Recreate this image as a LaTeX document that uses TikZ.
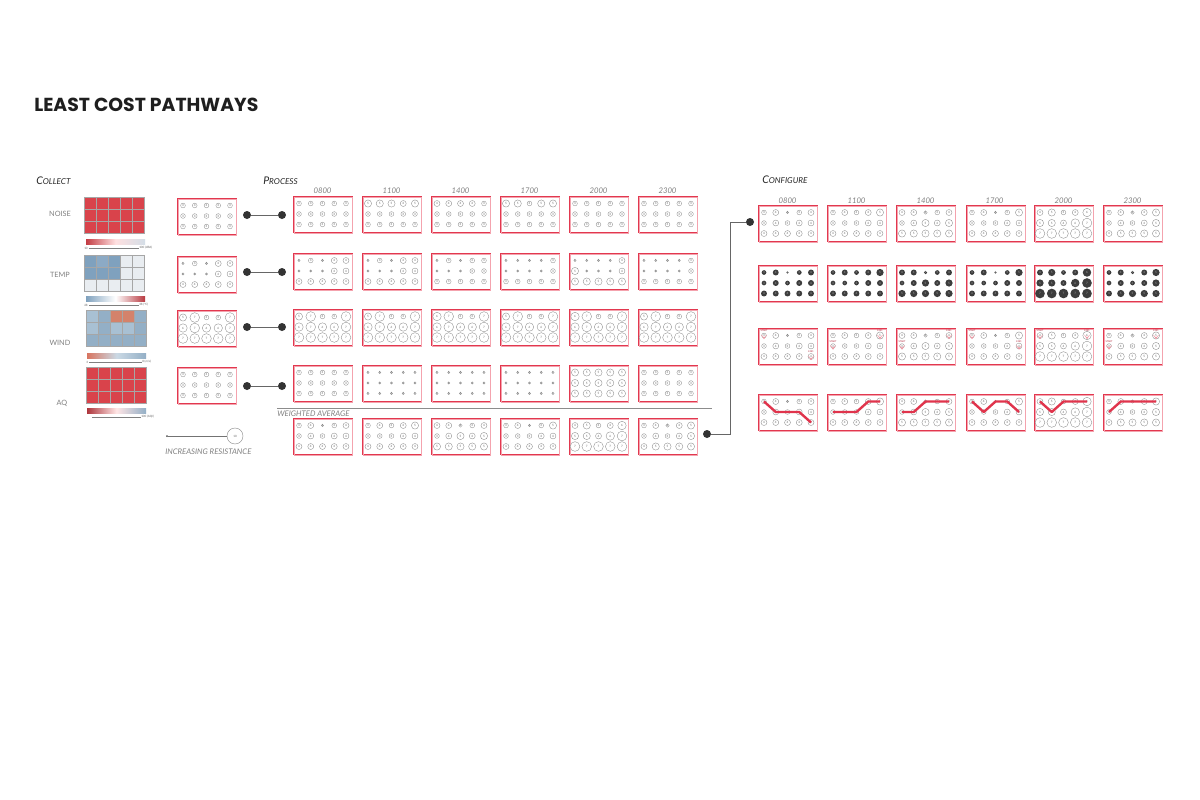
\documentclass[tikz,border=0pt]{standalone}
\usepackage{fontspec}
\setmainfont{Lato}
\newfontfamily\titlefont{Poppins}
\usetikzlibrary{calc}
\definecolor{boxred}{HTML}{E2384F}
\definecolor{boxpink}{HTML}{F4A3AE}
\definecolor{hred}{HTML}{D9434B}
\definecolor{hblue}{HTML}{7FA1BE}
\definecolor{hlight}{HTML}{E9EDF1}
\definecolor{wlight}{HTML}{A8C0D3}
\definecolor{wmid}{HTML}{93AFC6}
\definecolor{worange}{HTML}{D4826B}
\definecolor{txtgray}{HTML}{808080}
\definecolor{dotgray}{HTML}{333333}
\definecolor{fillgray}{HTML}{3D3D3D}
\definecolor{pathred}{HTML}{E0344C}
\newcommand{\fsc}[2]{{\fontsize{7.5}{8}\selectfont #1}{\fontsize{5.8}{7}\selectfont #2}}
\newcommand{\tinyfont}{\fontsize{2.1}{2.4}\selectfont}
\tikzset{
  gridbox/.style={draw=boxred, line width=0.6pt, minimum width=14.75mm, minimum height=9mm, inner sep=0pt, anchor=north west},
  pinkedge/.style={draw=boxpink, line width=0.5pt},
  circopen/.style={draw=black!45, line width=0.25pt, fill=white},
  circfill/.style={fill=fillgray},
  digitopen/.style={font=\tinyfont, text=black!60, inner sep=0pt},
  digitfill/.style={font=\tinyfont, text=black!35, inner sep=0pt},
  hdr/.style={font=\fontsize{5.5}{6}\selectfont\itshape, text=txtgray, inner sep=0pt},
  rowlbl/.style={font=\fontsize{5.2}{6}\selectfont, text=txtgray, inner sep=0pt},
  sect/.style={font=\itshape, text=black!85, inner sep=0pt, anchor=west},
  dumb/.style={draw=black!60, line width=0.7pt},
  enddot/.style={circle, fill=dotgray, inner sep=0pt, minimum size=2mm},
  cell/.style={draw=black!35, line width=0.25pt},
  pathline/.style={draw=pathred, line width=1.7pt, line join=round},
  pin/.style={fill=pathred!80, draw=pathred!40, line width=0.2pt},
  pintext/.style={font=\fontsize{1.7}{2}\selectfont, text=pathred!80!black, inner sep=0pt},
}
% grid of 5x3 resistance circles: name, x, y, values, open|fill
\newcommand{\cgrid}[5]{%
  \node[gridbox] (#1) at (#2,#3) {};
  \draw[pinkedge] ($(#2,#3)+(1.3,1.1)$) rectangle ($(#2,#3)+(59.8,36.9)$);
  \edef\cglist{#4}%
  \foreach \v [count=\i from 0] in \cglist {%
    \pgfmathtruncatemacro\cc{mod(\i,5)}%
    \pgfmathtruncatemacro\rr{div(\i,5)}%
    \pgfmathsetmacro\rad{0.62*\v+0.5}%
    \coordinate (#1-\rr-\cc) at ($(#2,#3)+(6+11.75*\cc,7.5+10.5*\rr)$);
    \path[circ#5] (#1-\rr-\cc) circle[radius=\rad];
    \node[digit#5] at (#1-\rr-\cc) {\v};
  }%
}
% heat map: x, y, 15 colours
\newcommand{\hmap}[3]{%
  \foreach \cl [count=\i from 0] in {#3}{%
    \pgfmathtruncatemacro\cc{mod(\i,5)}%
    \pgfmathtruncatemacro\rr{div(\i,5)}%
    \path[fill=\cl, cell] ($(#1,#2)+(12*\cc,12*\rr)$) rectangle ++(12,12);
  }%
}
% start/end marker: a red pin on the grid cell, tiny label above
\newcommand{\startpin}[2]{%
  \path[pin] ($(#1)+(-2.4,-0.6)$) arc[start angle=180, end angle=0, radius=2.4] -- ($(#1)+(0,3.4)$) -- cycle;
  \node[pintext] at ($(#1)+(0,-4.4)$) {#2};
}
\def\vA{3,4,1,3,4,3,4,3,4,4,4,4,4,4,4}
\def\vB{3,4,3,4,5,3,3,3,4,4,4,4,4,4,4}
\def\vC{4,4,2,3,4,3,4,5,4,5,5,5,5,5,5}
\def\vD{3,4,1,3,5,3,3,3,4,4,4,4,4,4,4}
\def\vE{4,5,3,4,6,5,5,4,6,7,7,7,7,7,7}
\def\vF{3,4,2,4,5,3,4,3,4,5,4,5,5,5,5}
\begin{document}
\begin{tikzpicture}[x=0.25mm, y=-0.25mm]
\useasboundingbox (0,0) rectangle (1200,800);
\fill[white] (0,0) rectangle (1200,800);

% title and section labels
\node[anchor=west, inner sep=0pt, font=\titlefont\bfseries\fontsize{13.4}{15}\selectfont, text=black!88] (title) at (34,105) {LEAST COST PATHWAYS};
\node[sect] (collect) at (36,181) {\fsc{C}{OLLECT}};
\node[sect] (process) at (263,181) {\fsc{P}{ROCESS}};
\node[sect] (configure) at (762,180) {\fsc{C}{ONFIGURE}};

% ---------------- COLLECT ----------------
\node[rowlbl] (lnoise) at (60,214) {NOISE};
\node[rowlbl] (ltemp) at (60,275) {TEMP};
\node[rowlbl] (lwind) at (60,343) {WIND};
\node[rowlbl] (laq) at (62,403) {AQ};

\hmap{84}{197}{hred,hred,hred,hred,hred,hred,hred,hred,hred,hred,hred,hred,hred,hred,hred}
\hmap{84}{255}{hblue,hblue!90,hblue,hlight,hlight,hblue,hblue,hblue,hlight,hlight,hlight,hlight,hlight,hlight,hlight}
\hmap{86}{310}{wlight,wmid,worange,worange,wmid,wlight,wmid,wlight,wlight,wmid,wmid,wmid,wmid,wmid,wmid}
\hmap{86}{367}{hred,hred,hred,hred,hred,hred,hred,hred,hred,hred,hred,hred,hred,hred,hred}

\shade[left color=hred!90!black, right color=hlight!80!hblue, middle color=red!12] (86,239) rectangle (145,244);
\shade[left color=hblue, right color=hred!85!black, middle color=white] (86,296) rectangle (145,301);
\shade[left color=worange!90!red, right color=wmid, middle color=wlight!60] (87,353) rectangle (146,358);
\shade[left color=hred!80!black, right color=wmid, middle color=red!10] (87,408) rectangle (146,413);

\begin{scope}[every node/.style={font=\tinyfont, text=black!60, inner sep=0pt}]
\node[anchor=west] (s1a) at (84,248) {10};
\node[anchor=west] (s1b) at (139,248) {100 (dBA)};
\draw[black!50, line width=0.2pt] (s1a.east) ++(1,0) -- (s1b.west);
\node[anchor=west] (s2a) at (84,305) {28};
\node[anchor=west] (s2b) at (139,305) {38 (°C)};
\draw[black!50, line width=0.2pt] (s2a.east) ++(1,0) -- (s2b.west);
\node[anchor=west] (s3a) at (86,362) {3};
\node[anchor=west] (s3b) at (142,362) {8 (m/s)};
\draw[black!50, line width=0.2pt] (s3a.east) ++(1,0) -- (s3b.west);
\node[anchor=west] (s4b) at (141,417) {100 (AQI)};
\coordinate (s4a) at (92,417);
\draw[black!50, line width=0.2pt] (s4a) -- (s4b.west);
\end{scope}

% ---------------- PROCESS: inputs ----------------
\cgrid{in1}{177}{198}{3,3,3,3,3,3,3,3,3,3,3,3,3,3,3}{open}
\cgrid{in2}{177}{256}{1,3,1,4,4,1,1,1,4,4,4,4,4,4,4}{open}
\cgrid{in3}{177}{310}{5,7,3,3,7,6,7,6,6,7,7,7,7,7,7}{open}
\cgrid{in4}{177}{367}{3,3,3,3,3,3,3,3,3,3,3,3,3,3,3}{open}

\foreach \y [count=\k] in {215,272,327,386}{
  \node[enddot] (da\k) at (247,\y) {};
  \node[enddot] (db\k) at (282,\y) {};
  \draw[dumb] (da\k) -- (db\k);
}

% legend
\node[circle, fill=black!70, inner sep=0pt, minimum size=0.5mm] (lgA) at (167,436) {};
\node[circle, draw=black!45, line width=0.3pt, inner sep=0pt, minimum size=4mm, font=\tinyfont, text=black!60] (lgB) at (235,436) {10};
\draw[black!55, line width=0.6pt] (lgA) -- (lgB);
\node[hdr, anchor=west] (lgT) at (165,452) {INCREASING RESISTANCE};

% headers
\foreach \t [count=\k from 0] in {0800,1100,1400,1700,2000,2300}{
  \node[hdr] (ph\k) at (322.5+69*\k,191) {\t};
  \node[hdr] (ch\k) at (787.5+69*\k,201) {\t};
}

% NOISE row
\cgrid{n0}{293}{196}{3,3,3,3,3,3,3,3,3,3,3,3,3,3,3}{open}
\cgrid{n1}{362}{196}{5,5,5,4,5,3,3,3,3,3,3,3,3,3,3}{open}
\cgrid{n2}{431}{196}{4,4,4,4,3,3,3,3,3,3,3,3,3,3,3}{open}
\cgrid{n3}{500}{196}{5,5,3,5,5,3,3,3,3,3,3,3,3,3,3}{open}
\cgrid{n4}{569}{196}{3,3,3,3,3,3,3,3,3,3,3,3,3,3,3}{open}
\cgrid{n5}{638}{196}{3,3,3,3,3,3,3,3,3,3,3,3,3,3,3}{open}
% TEMP row
\cgrid{t0}{293}{253}{1,3,1,4,4,1,1,1,4,4,4,4,4,4,4}{open}
\cgrid{t1}{362}{253}{1,3,1,4,4,1,1,1,4,4,4,4,4,4,4}{open}
\cgrid{t2}{431}{253}{1,3,1,3,3,1,1,1,3,3,3,3,3,3,3}{open}
\cgrid{t3}{500}{253}{1,1,1,1,3,1,1,1,1,3,3,3,3,3,3}{open}
\cgrid{t4}{569}{253}{1,1,1,1,4,5,1,1,1,4,5,5,5,5,5}{open}
\cgrid{t5}{638}{253}{1,1,1,1,3,1,1,1,1,3,3,3,3,3,3}{open}
% WIND row
\cgrid{w0}{293}{309}{5,7,3,3,7,6,7,6,6,7,7,7,7,7,7}{open}
\cgrid{w1}{362}{309}{5,7,3,3,7,6,7,6,6,7,7,7,7,7,7}{open}
\cgrid{w2}{431}{309}{6,7,3,3,7,6,7,6,6,7,7,7,7,7,7}{open}
\cgrid{w3}{500}{309}{5,7,3,3,7,6,7,6,6,7,7,7,7,7,7}{open}
\cgrid{w4}{569}{309}{6,7,3,3,7,6,7,6,6,7,7,7,7,7,7}{open}
\cgrid{w5}{638}{309}{5,7,3,3,7,6,7,6,6,7,7,7,7,7,7}{open}
% AQ row
\cgrid{a0}{293}{365}{3,3,3,3,3,3,3,3,3,3,3,3,3,3,3}{open}
\cgrid{a1}{362}{365}{1,1,1,1,1,1,1,1,1,1,1,1,1,1,1}{open}
\cgrid{a2}{431}{365}{1,1,1,1,1,1,1,1,1,1,1,1,1,1,1}{open}
\cgrid{a3}{500}{365}{1,1,1,1,1,1,1,1,1,1,1,1,1,1,1}{open}
\cgrid{a4}{569}{365}{5,5,5,5,5,5,5,5,5,5,5,5,5,5,5}{open}
\cgrid{a5}{638}{365}{3,3,3,3,3,3,3,3,3,3,3,3,3,3,3}{open}

% weighted average
\coordinate (sepA) at (277,408);
\coordinate (sepB) at (712,408);
\draw[black!45, line width=0.5pt] (sepA) -- (sepB);
\node[hdr, anchor=west] (wlbl) at (277,414) {WEIGHTED AVERAGE};

\cgrid{g0}{293}{418}{\vA}{open}
\cgrid{g1}{362}{418}{\vB}{open}
\cgrid{g2}{431}{418}{\vC}{open}
\cgrid{g3}{500}{418}{\vD}{open}
\cgrid{g4}{569}{418}{\vE}{open}
\cgrid{g5}{638}{418}{\vF}{open}

% connector to configure
\node[enddot] (waout) at (707,434) {};
\node[enddot] (cfin) at (750,222) {};
\coordinate (bend1) at (730,434);
\coordinate (bend2) at (730,222);
\draw[dumb] (waout) -- (bend1) -- (bend2) -- (cfin);

% ---------------- CONFIGURE ----------------
\cgrid{c0}{758}{205}{\vA}{open}
\cgrid{c1}{827}{205}{\vB}{open}
\cgrid{c2}{896}{205}{\vC}{open}
\cgrid{c3}{966}{205}{\vD}{open}
\cgrid{c4}{1034}{205}{\vE}{open}
\cgrid{c5}{1103}{205}{\vF}{open}

\cgrid{f0}{758}{265}{\vA}{fill}
\cgrid{f1}{827}{265}{\vB}{fill}
\cgrid{f2}{896}{265}{\vC}{fill}
\cgrid{f3}{966}{265}{\vD}{fill}
\cgrid{f4}{1034}{265}{\vE}{fill}
\cgrid{f5}{1103}{265}{\vF}{fill}

\cgrid{m0}{758}{328}{\vA}{open}
\cgrid{m1}{827}{328}{\vB}{open}
\cgrid{m2}{896}{328}{\vC}{open}
\cgrid{m3}{966}{328}{\vD}{open}
\cgrid{m4}{1034}{328}{\vE}{open}
\cgrid{m5}{1103}{328}{\vF}{open}

\cgrid{p0}{758}{394}{\vA}{open}
\cgrid{p1}{827}{394}{\vB}{open}
\cgrid{p2}{896}{394}{\vC}{open}
\cgrid{p3}{966}{394}{\vD}{open}
\cgrid{p4}{1034}{394}{\vE}{open}
\cgrid{p5}{1103}{394}{\vF}{open}

% start / end markers
\startpin{m0-0-0}{START}
\startpin{m0-2-4}{END}
\startpin{m1-1-0}{START}
\startpin{m1-0-4}{END}
\startpin{m2-1-0}{START}
\startpin{m2-0-4}{END}
\startpin{m3-0-0}{START}
\startpin{m3-1-4}{END}
\startpin{m4-0-0}{START}
\startpin{m4-0-4}{END}
\startpin{m5-1-0}{START}
\startpin{m5-0-4}{END}

% least cost paths
\draw[pathline] (p0-0-0) -- (p0-1-1) -- (p0-1-2) -- (p0-1-3) -- (p0-2-4);
\draw[pathline] (p1-1-0) -- (p1-1-1) -- (p1-1-2) -- (p1-0-3) -- (p1-0-4);
\draw[pathline] (p2-1-0) -- (p2-1-1) -- (p2-0-2) -- (p2-0-3) -- (p2-0-4);
\draw[pathline] (p3-0-0) -- (p3-1-1) -- (p3-0-2) -- (p3-0-3) -- (p3-1-4);
\draw[pathline] (p4-0-0) -- (p4-1-1) -- (p4-0-2) -- (p4-0-3) -- (p4-0-4);
\draw[pathline] (p5-1-0) -- (p5-0-1) -- (p5-0-2) -- (p5-0-3) -- (p5-0-4);
\end{tikzpicture}
\end{document}
